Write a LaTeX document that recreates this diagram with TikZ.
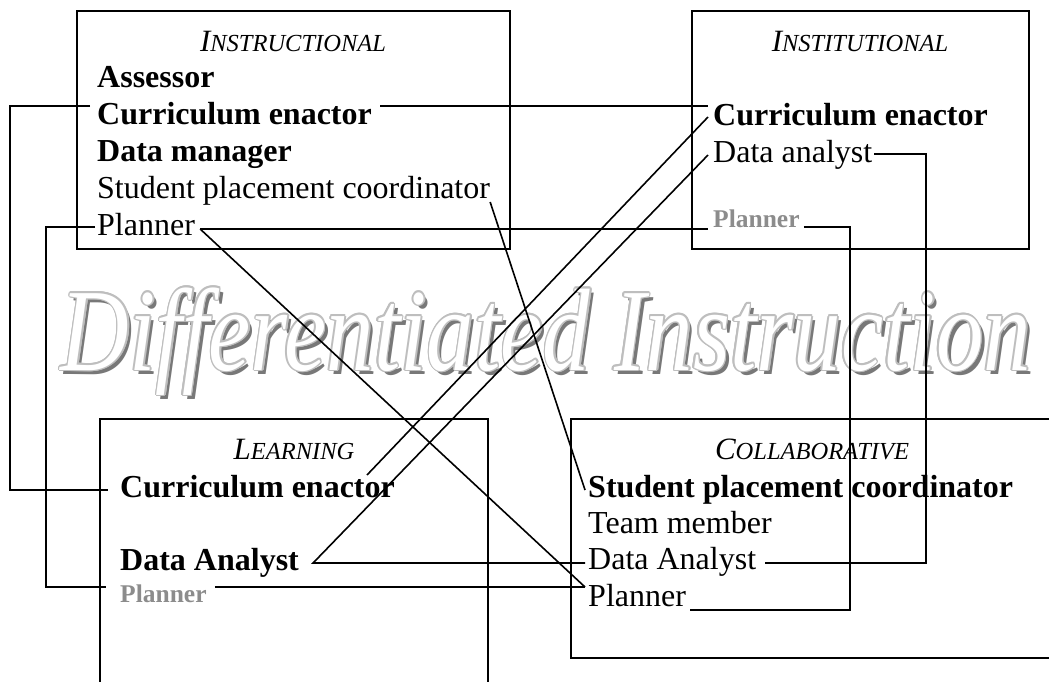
\documentclass[tikz,border=0pt]{standalone}
\usepackage{fontspec}
\setmainfont{Liberation Serif}
\usetikzlibrary{calc}
\definecolor{plangray}{RGB}{140,140,140}
\definecolor{shadowgray}{RGB}{120,120,120}
\definecolor{rimgray}{RGB}{190,190,190}
% italic small caps heading: full-size initial, reduced capitals after it
\newcommand\hsc[2]{#1{\fontsize{24.5}{24.5}\selectfont #2}}
\newcommand\titletext{\scalebox{1}[1.235]{\fontsize{95}{100}\selectfont\itshape Differentiated Instruction}}

\begin{document}
\begin{tikzpicture}[x=1pt,y=-1pt,
  frame/.style={line width=2pt},
  link/.style={line width=1.6pt, line join=miter},
  heading/.style={anchor=base, inner sep=0pt, font=\fontsize{31}{37}\selectfont\itshape},
  role/.style={anchor=base west, inner sep=0pt, font=\fontsize{32}{37}\selectfont},
  keyrole/.style={role, font=\fontsize{32}{37}\selectfont\bfseries},
  minorrole/.style={role, font=\fontsize{25.5}{30}\selectfont\bfseries, text=plangray},
  wordart/.style={anchor=base, inner sep=0pt}]

\useasboundingbox (0,0) rectangle (1049,681);
\fill[white] (0,0) rectangle (1049,681);

% ---- banner title: shadow, light rim, white face ----
\coordinate (ttl) at (546,370);
\node[wordart, text=shadowgray] (ttlshadow) at ([shift={(4pt,-4pt)}]ttl) {\titletext};
\foreach \a in {0,30,...,330}
  \node[wordart, text=rimgray] (ttlrim\a) at ([shift={(\a:1.6pt)}]ttl) {\titletext};
\node[wordart, text=white] (title) at (ttl) {\titletext};

% ---- the four role frames ----
\draw[frame] (77,11) rectangle (510,249);
\draw[frame] (692,11) rectangle (1029,249);
\draw[frame] (100,690) -- (100,419) -- (488,419) -- (488,690);
\draw[frame] (1060,419) -- (571,419) -- (571,658) -- (1060,658);

% ---- Instructional ----
\node[heading] (iH) at (293,51) {\hsc{I}{NSTRUCTIONAL}};
\node[keyrole] (iAs) at (97,87)  {Assessor};
\node[keyrole] (iCE) at (97,124) {Curriculum enactor};
\node[keyrole] (iDM) at (97,161) {Data manager};
\node[role]    (iSP) at (97,198) {Student placement coordinator};
\node[role]    (iPl) at (97,235) {Planner};

% ---- Institutional ----
\node[heading]   (sH)  at (860,51)  {\hsc{I}{NSTITUTIONAL}};
\node[keyrole]   (sCE) at (713,125) {Curriculum enactor};
\node[role]      (sDA) at (713,162) {Data analyst};
\node[minorrole] (sPl) at (713,227) {Planner};

% ---- Learning ----
\node[heading]   (lH)  at (294,459) {\hsc{L}{EARNING}};
\node[keyrole]   (lCE) at (120,497) {Curriculum enactor};
\node[keyrole]   (lDA) at (120,570) {Data Analyst};
\node[minorrole] (lPl) at (120,602) {Planner};

% ---- Collaborative ----
\node[heading] (cH)  at (812,459) {\hsc{C}{OLLABORATIVE}};
\node[keyrole] (cSP) at (588,497) {Student placement coordinator};
\node[role]    (cTM) at (588,533) {Team member};
\node[role]    (cDA) at (588,569) {Data Analyst};
\node[role]    (cPl) at (588,606) {Planner};

% ---- connector end points beside the labels ----
\coordinate (iCEl) at ([xshift=-7pt,yshift=18pt]iCE.base west);
\coordinate (iCEr) at ([xshift=8pt,yshift=18pt]iCE.base east);
\coordinate (iPll) at ([xshift=-2pt,yshift=8pt]iPl.base west);
\coordinate (iPlr) at ([xshift=5pt,yshift=6pt]iPl.base east);
\coordinate (iSPr) at ([xshift=0pt,yshift=-4pt]iSP.base east);

\coordinate (sCEl) at ([xshift=-5pt,yshift=20pt]sCE.base west);
\coordinate (sCEd) at ([xshift=-5pt,yshift=8pt]sCE.base west);
\coordinate (sDAd) at ([xshift=-5pt,yshift=7pt]sDA.base west);
\coordinate (sDAr) at ([xshift=2pt,yshift=8pt]sDA.base east);
\coordinate (sPll) at ([xshift=-5pt]sPl.base west);
\coordinate (sPlr) at ([xshift=4pt]sPl.base east);

\coordinate (lCEl) at ([xshift=-12pt,yshift=7pt]lCE.base west);
\coordinate (lCEr) at ([xshift=247pt,yshift=22pt]lCE.base west);
\coordinate (lDAr) at ([xshift=14pt,yshift=7pt]lDA.base east);
\coordinate (lPll) at ([xshift=-14pt,yshift=15pt]lPl.base west);
\coordinate (lPlr) at ([xshift=8pt,yshift=15pt]lPl.base east);

\coordinate (cSPl) at ([xshift=-3pt,yshift=7pt]cSP.base west);
\coordinate (cDAl) at ([xshift=-3pt,yshift=6pt]cDA.base west);
\coordinate (cDAr) at ([xshift=9pt,yshift=6pt]cDA.base east);
\coordinate (cPll) at ([xshift=-3pt,yshift=19pt]cPl.base west);
\coordinate (cPlr) at ([xshift=4pt,yshift=-4pt]cPl.base east);

% vertical rails of the routed connectors
\coordinate (railA) at (10,0);
\coordinate (railB) at (46,0);
\coordinate (railC) at (850,0);
\coordinate (railD) at (926,0);

% ---- connectors ----
\draw[link] (iCEr) -- (iCEr -| sCEl);
\draw[link] (iCEl) -- (iCEl -| railA) -- (lCEl -| railA) -- (lCEl);
\draw[link] (iPlr) -- (iPlr -| sPll);
\draw[link] (iPll) -- (iPll -| railB) -- (lPll -| railB) -- (lPll);
\draw[link] (iPlr) -- (cPll);
\draw[link] (iSPr) -- (cSPl);
\draw[link] (sCEd) -- (lCEr);
\draw[link] (sDAd) -- (lDAr) -- (lDAr -| cDAl);
\draw[link] (lPlr) -- (lPlr -| cPll);
\draw[link] (sDAr) -- (sDAr -| railD) -- (cDAr -| railD) -- (cDAr);
\draw[link] (sPlr) -- (sPlr -| railC) -- (cPlr -| railC) -- (cPlr);

\end{tikzpicture}
\end{document}
